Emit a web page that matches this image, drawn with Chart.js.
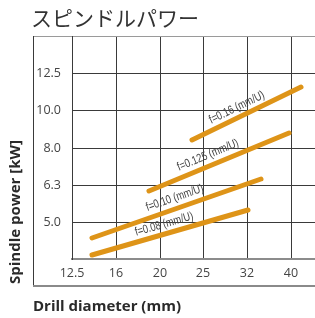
<!DOCTYPE html>
<html>
<head>
<meta charset="utf-8">
<script src="https://cdn.jsdelivr.net/npm/chart.js@4/dist/chart.umd.min.js"></script>
<style>
html,body{margin:0;padding:0;background:#fff;}
canvas{display:block;}
</style>
</head>
<body>
<canvas id="c" width="315" height="318"></canvas>
<script>
// ---- data ----
const chartTitle = 'スピンドルパワー';
const xAxisTitle = 'Drill diameter (mm)';
const yAxisTitle = 'Spindle power [kW]';

// nominal (equally spaced) scale steps
const diameterSteps = [12.5, 16, 20, 25, 32, 40, 50];
const powerSteps = [4.0, 5.0, 6.3, 8.0, 10.0, 12.5, 16.0];
const xTickLabels = ['12.5', '16', '20', '25', '32', '40'];
const yTickLabels = ['', '5.0', '6.3', '8.0', '10.0', '12.5', ''];

const feedLabels = ['f=0.08 (mm/U)', 'f=0.10 (mm/U)', 'f=0.125 (mm/U)', 'f=0.16 (mm/U)'];
const diametersF008 = [14.1, 32.1];
const powersF008 = [4.11, 5.43];
const diametersF010 = [14.1, 34.6];
const powersF010 = [4.56, 6.54];
const diametersF0125 = [19.0, 39.6];
const powersF0125 = [6.08, 8.78];
const diametersF016 = [23.7, 42.2];
const powersF016 = [8.42, 11.58];

// ---- helpers ----
function stepIndex(v, steps) {
  for (let i = 0; i < steps.length - 1; i++) {
    if (v <= steps[i + 1] || i === steps.length - 2) {
      return i + (v - steps[i]) / (steps[i + 1] - steps[i]);
    }
  }
}
function pts(ds, ps) {
  return ds.map((d, i) => ({ x: stepIndex(d, diameterSteps), y: stepIndex(ps[i], powerSteps) }));
}

const seriesD = [diametersF008, diametersF010, diametersF0125, diametersF016];
const seriesP = [powersF008, powersF010, powersF0125, powersF016];
const lineColor = '#DE9418';

// label placement along each line (fraction along the line, perpendicular offset px)
const labelT = [0.48, 0.51, 0.45, 0.45];
const labelOff = [9.5, 10.5, 10.5, 9.5];

const decor = {
  id: 'decor',
  beforeDraw(chart) {
    const ctx = chart.ctx;
    ctx.save();
    // outer frame
    ctx.strokeStyle = '#9a9a9a';
    ctx.lineWidth = 1;
    ctx.beginPath(); ctx.moveTo(33, 36.5); ctx.lineTo(315, 36.5); ctx.stroke();
    ctx.strokeStyle = '#3a3a3a';
    ctx.beginPath(); ctx.moveTo(33.5, 36); ctx.lineTo(33.5, 287); ctx.stroke();
    ctx.strokeStyle = '#8a8a8a';
    ctx.lineWidth = 2;
    ctx.beginPath(); ctx.moveTo(33, 286); ctx.lineTo(315, 286); ctx.stroke();
    // title
    ctx.fillStyle = '#333';
    ctx.font = '400 21px "Noto Sans CJK JP", sans-serif';
    ctx.textBaseline = 'middle';
    ctx.textAlign = 'left';
    ctx.fillText(chartTitle, 31, 18);
    // axis titles
    ctx.fillStyle = '#2a2a2a';
    ctx.font = 'bold 15px "Open Sans", sans-serif';
    ctx.fillText(xAxisTitle, 33, 307);
    ctx.save();
    ctx.translate(16, 284);
    ctx.rotate(-Math.PI / 2);
    ctx.textAlign = 'left';
    ctx.fillText(yAxisTitle, 0, 0);
    ctx.restore();
    ctx.restore();
  },
  afterDatasetsDraw(chart) {
    const ctx = chart.ctx;
    ctx.save();
    ctx.fillStyle = '#444';
    ctx.font = '12px "Liberation Sans", Arial, sans-serif';
    ctx.textAlign = 'center';
    ctx.textBaseline = 'middle';
    feedLabels.forEach((lab, i) => {
      const m = chart.getDatasetMeta(i).data;
      const p0 = m[0], p1 = m[m.length - 1];
      const a = Math.atan2(p1.y - p0.y, p1.x - p0.x);
      const t = labelT[i];
      const cx = p0.x + t * (p1.x - p0.x) + labelOff[i] * Math.sin(a);
      const cy = p0.y + t * (p1.y - p0.y) - labelOff[i] * Math.cos(a);
      ctx.save();
      ctx.translate(cx, cy);
      ctx.rotate(a);
      ctx.scale(0.78, 1);
      ctx.fillText(lab, 0, 0);
      ctx.restore();
    });
    ctx.restore();
  }
};

new Chart(document.getElementById('c'), {
  type: 'scatter',
  data: {
    datasets: feedLabels.map((lab, i) => ({
      label: lab,
      data: pts(seriesD[i], seriesP[i]),
      showLine: true,
      borderColor: lineColor,
      backgroundColor: lineColor,
      borderWidth: 5,
      borderCapStyle: 'round',
      pointRadius: 0,
      pointHoverRadius: 0
    }))
  },
  options: {
    responsive: false,
    devicePixelRatio: 1,
    animation: false,
    events: [],
    layout: { padding: { left: 0, right: 0, top: 36, bottom: 0 } },
    plugins: { legend: { display: false }, tooltip: { enabled: false }, title: { display: false } },
    scales: {
      x: {
        type: 'linear',
        min: 0,
        max: 5.55,
        alignToPixels: true,
        afterFit(s) { s.height = 59; },
        afterBuildTicks(s) { s.ticks = xTickLabels.map((_, i) => ({ value: i })); },
        ticks: {
          autoSkip: false,
          maxRotation: 0,
          padding: 7,
          color: '#444',
          font: { family: '"Open Sans", sans-serif', size: 12.5 },
          callback: (v) => xTickLabels[Math.round(v)] ?? ''
        },
        grid: { color: '#3a3a3a', lineWidth: 1, drawTicks: false },
        border: { display: true, color: '#8c8c8c', width: 2 }
      },
      y: {
        type: 'linear',
        min: 0,
        max: 6,
        alignToPixels: true,
        afterFit(s) { s.width = 72; },
        afterBuildTicks(s) { s.ticks = yTickLabels.map((_, i) => ({ value: i })); },
        ticks: {
          autoSkip: false,
          padding: 11,
          color: '#444',
          font: { family: '"Open Sans", sans-serif', size: 12.5 },
          callback: (v) => yTickLabels[Math.round(v)] ?? ''
        },
        grid: {
          color: (c) => (c.tick && c.tick.value === 6 ? '#9a9a9a' : '#3a3a3a'),
          lineWidth: 1,
          drawTicks: false
        },
        border: { display: true, color: '#3a3a3a', width: 1 }
      }
    }
  },
  plugins: [decor]
});
</script>
</body>
</html>
